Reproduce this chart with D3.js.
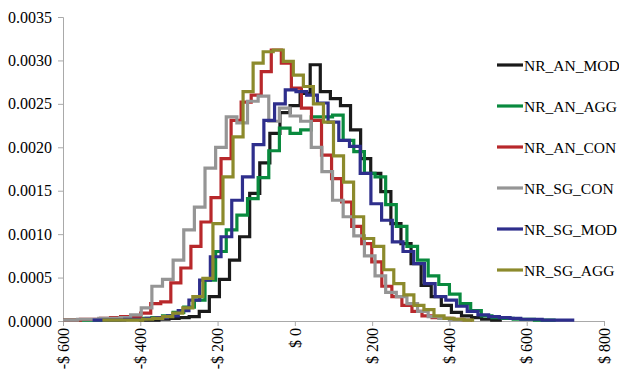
<!DOCTYPE html>
<html>
<head>
<meta charset="utf-8">
<script src="https://cdn.jsdelivr.net/npm/d3@7"></script>
<style>
body{margin:0;background:#fff;}
.lab{font-family:"Liberation Serif","Times New Roman",serif;}
</style>
</head>
<body>
<svg id="chart" width="619" height="374"></svg>
<script>
// series, in legend order
var seriesNames=["NR_AN_MOD","NR_AN_AGG","NR_AN_CON","NR_SG_CON","NR_SG_MOD","NR_SG_AGG"];
var seriesColors=["#1a1a1a","#098a3e","#b8282b","#959595","#2e2e8c","#8c8a2c"];
// each histogram has its own first bin edge and bin width ($)
var binStarts=[-404,-617.5,-607,-617.5,-523.4,-498];
var binWidths=[26.1,27.5,26,27.5,27.7,26];

var anMod=[0.00001,0.00001,0.00002,0.00003,0.00004,0.00005,0.00011,0.00028,0.00048,0.0007,0.00097,0.00147,0.00182,0.00216,0.0024,0.00248,0.00262,0.00295,0.00264,0.00256,0.00248,0.0022,0.00187,0.0017,0.00149,0.00112,0.00089,0.00066,0.00041,0.00028,0.00018,0.0001,0.00006,0.00004,0.00002,0.00001];
var anAgg=[0.00001,0.00001,0.00001,0.00001,0.00001,0.00001,0.00002,0.00002,0.00003,0.00004,0.00006,0.0001,0.00016,0.00024,0.00047,0.0008,0.00105,0.00122,0.00141,0.00165,0.00196,0.00222,0.00216,0.0022,0.00235,0.00235,0.00237,0.00208,0.00195,0.0017,0.00166,0.00134,0.00109,0.00086,0.0007,0.00052,0.00042,0.00031,0.0002,0.00012,0.00006,0.00004,0.00003,0.00002,0.00002,0.00001,0.00001];
var anCon=[0.00001,0.00001,0.00002,0.00002,0.00003,0.00004,0.00005,0.00005,0.00009,0.0002,0.00022,0.00044,0.00061,0.00086,0.00114,0.00142,0.00187,0.00231,0.00252,0.0026,0.00287,0.00312,0.00297,0.00268,0.00245,0.00231,0.00191,0.00164,0.00137,0.00109,0.00089,0.00068,0.0004,0.00028,0.00018,0.00011,0.00006,0.00004,0.00003,0.00002,0.00001];
var sgCon=[0.00001,0.00001,0.00002,0.00002,0.00003,0.00003,0.00004,0.00007,0.00015,0.0004,0.00048,0.0007,0.00105,0.00131,0.00176,0.002,0.00235,0.00228,0.00253,0.00259,0.0023,0.00245,0.00236,0.0023,0.002,0.00172,0.00139,0.0012,0.00098,0.00075,0.00052,0.00033,0.00028,0.0002,0.00011,0.00005,0.00003,0.00001,0.00001];
var sgMod=[0.00001,0.00001,0.00001,0.00002,0.00002,0.00003,0.00004,0.00006,0.00012,0.00024,0.00047,0.00074,0.00097,0.00139,0.00166,0.00203,0.00231,0.0025,0.00266,0.00264,0.0026,0.00251,0.00229,0.00208,0.00201,0.0017,0.00135,0.00116,0.00091,0.0008,0.00066,0.00043,0.00028,0.00024,0.00017,0.00011,0.00007,0.00005,0.00004,0.00003,0.00002,0.00002,0.00001,0.00001,0.00001];
var sgAgg=[0.00001,0.00001,0.00001,0.00001,0.00002,0.00003,0.00005,0.00009,0.00015,0.00028,0.00049,0.00112,0.00166,0.00212,0.00264,0.00297,0.0031,0.00312,0.00299,0.00283,0.0027,0.0025,0.00229,0.0019,0.0016,0.0012,0.00095,0.00086,0.00059,0.00043,0.0003,0.00018,0.00013,0.00006,0.00003,0.00002,0.00001];
var seriesValues=[anMod,anAgg,anCon,sgCon,sgMod,sgAgg];

var xTicks=[-600,-400,-200,0,200,400,600,800];
var yTicks=[0,0.0005,0.001,0.0015,0.002,0.0025,0.003,0.0035];

var svg=d3.select("#chart");
var x=d3.scaleLinear().domain([-600,800]).range([63,604]);
var y=d3.scaleLinear().domain([0,0.0035]).range([321,17]);

svg.append("defs").append("clipPath").attr("id","plotClip")
  .append("rect").attr("x",x(-600)).attr("y",0).attr("width",x(800)-x(-600)).attr("height",y(0)+2);

// y axis
var yAxis=svg.append("g").attr("transform","translate("+x(-600)+",0)")
  .call(d3.axisLeft(y).tickValues(yTicks).tickSize(5).tickPadding(6).tickFormat(d3.format(".4f")));
yAxis.attr("font-family",null).attr("font-size",null);
yAxis.selectAll("text").attr("class","lab").style("font-size","16px").attr("fill","#000");

// x axis
var xAxis=svg.append("g").attr("transform","translate(0,"+y(0)+")")
  .call(d3.axisBottom(x).tickValues(xTicks).tickSize(5).tickFormat(function(d){
    return (d<0?"-$ ":"$ ")+Math.abs(d);
  }));
xAxis.attr("font-family",null).attr("font-size",null);
xAxis.selectAll("text")
  .attr("class","lab").style("font-size","16px").attr("fill","#000")
  .attr("text-anchor","end")
  .attr("transform","rotate(-90)")
  .attr("x",-7).attr("y",0).attr("dy","0.33em");

svg.selectAll(".domain,.tick line").attr("stroke","#a9a9a9").attr("stroke-width",1);

// step lines
var line=d3.line().curve(d3.curveStepAfter)
  .x(function(d){return x(d[0]);}).y(function(d){return y(d[1]);});

var plot=svg.append("g").attr("clip-path","url(#plotClip)");
seriesValues.forEach(function(vals,i){
  var pts=vals.map(function(v,j){return [binStarts[i]+j*binWidths[i],v];});
  pts.push([binStarts[i]+vals.length*binWidths[i],vals[vals.length-1]]);
  plot.append("path")
    .attr("d",line(pts))
    .attr("fill","none")
    .attr("stroke",seriesColors[i])
    .attr("stroke-width",3.2)
    .attr("stroke-linejoin","miter");
});

// legend
var legend=svg.append("g");
seriesNames.forEach(function(name,i){
  var g=legend.append("g").attr("transform","translate(497,"+(65+i*41)+")");
  g.append("line").attr("x1",0).attr("x2",26).attr("y1",0).attr("y2",0)
    .attr("stroke",seriesColors[i]).attr("stroke-width",3.2);
  g.append("text").attr("class","lab").attr("x",27).attr("y",5.5)
    .style("font-size","15.5px").attr("fill","#000").text(name);
});
</script>
</body>
</html>
